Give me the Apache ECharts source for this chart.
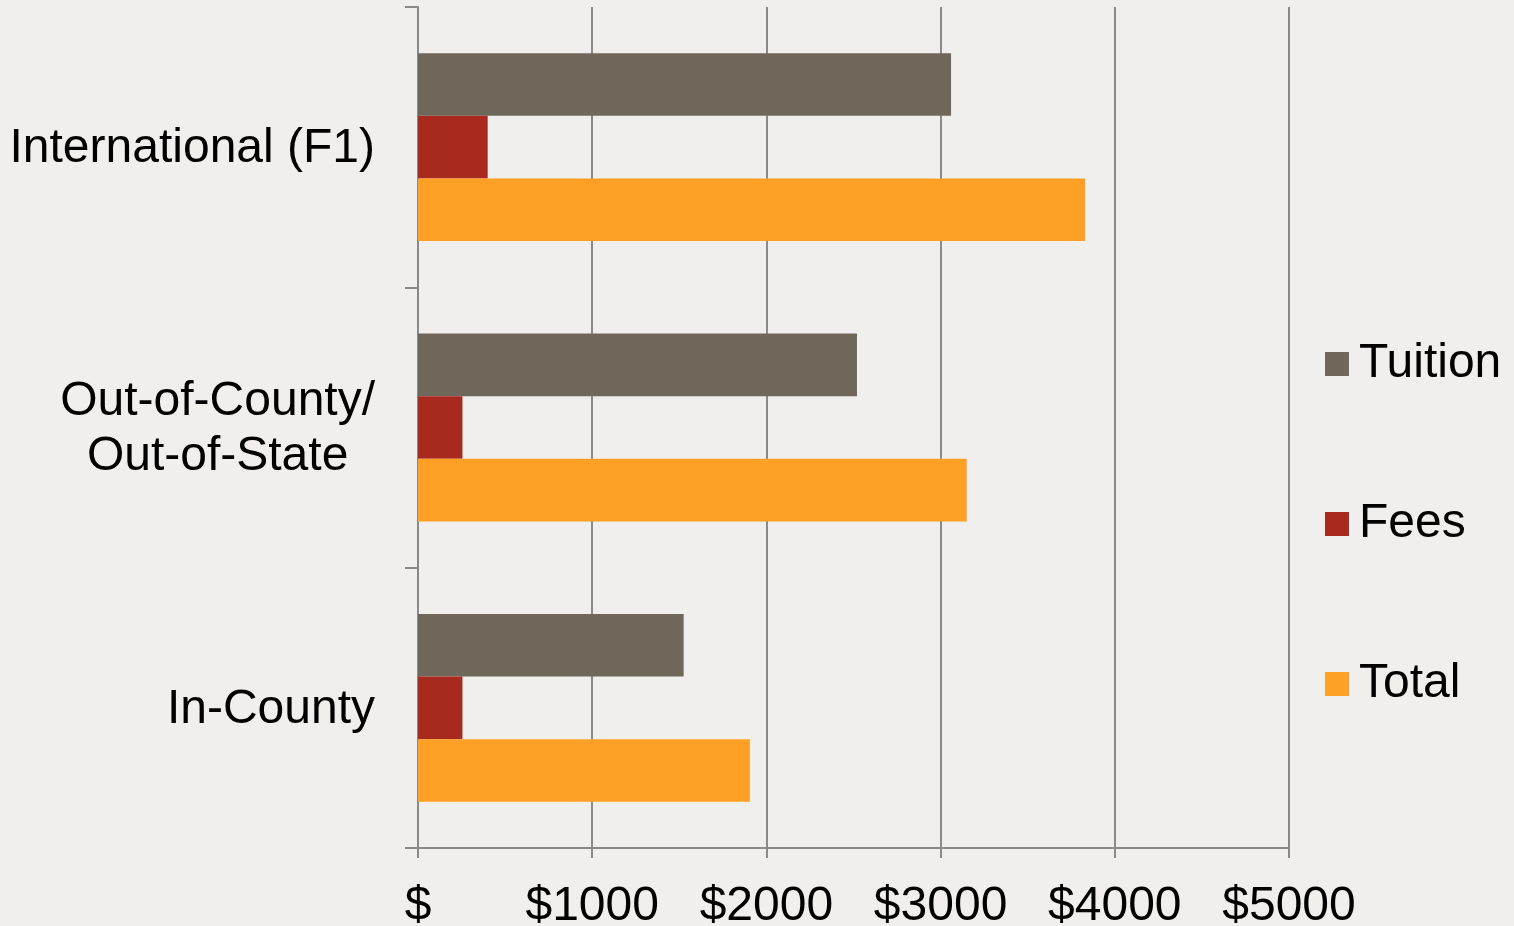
<!DOCTYPE html>
<html>
<head>
<meta charset="utf-8">
<style>
  html, body { margin: 0; padding: 0; background: #f0efee; }
  #chart { width: 1514px; height: 926px; }
</style>
<script src="https://cdn.jsdelivr.net/npm/echarts@6/dist/echarts.min.js"></script>
</head>
<body>
<div id="chart"></div>
<script>
// categories bottom to top, like the value axis reads
const categories = ['In-County', 'Out-of-County/\nOut-of-State', 'International (F1)'];
const tuition = [1525, 2520, 3060];
const fees = [255, 255, 400];
const total = [1905, 3150, 3830];
const xTicks = ['$', '$1000', '$2000', '$3000', '$4000', '$5000'];

const chart = echarts.init(document.getElementById('chart'));

const font = 'Liberation Sans, Arial, sans-serif';

const option = {
  backgroundColor: '#f0efee',
  color: ['#6f675a', '#a8291e', '#fda025'],
  textStyle: { fontFamily: font },
  grid: { left: 418, top: 7, right: 225, bottom: 78, outerBoundsMode: 'none' },
  legend: {
    orient: 'vertical',
    left: 1320,
    top: 335,
    itemWidth: 24,
    itemHeight: 24,
    itemGap: 112,
    icon: 'rect',
    data: ['Tuition', 'Fees', 'Total'],
    textStyle: { fontSize: 48, color: '#000', fontFamily: font, padding: [0, 0, 0, 5] }
  },
  xAxis: {
    type: 'value',
    min: 0,
    max: 5000,
    interval: 1000,
    axisLine: { show: true, lineStyle: { color: '#8a8a8a', width: 2 } },
    axisTick: { show: true, length: 10, lineStyle: { color: '#8a8a8a', width: 2 } },
    splitLine: { show: true, lineStyle: { color: '#8a8a8a', width: 2 } },
    axisLabel: {
      margin: 35,
      fontSize: 48,
      color: '#000',
      fontFamily: font,
      formatter: function (v) { return xTicks[Math.round(v / 1000)]; }
    }
  },
  yAxis: {
    type: 'category',
    data: categories,
    axisLine: { show: true, lineStyle: { color: '#8a8a8a', width: 2 } },
    axisTick: { show: true, length: 13, lineStyle: { color: '#8a8a8a', width: 2 } },
    axisLabel: {
      margin: 43,
      fontSize: 48,
      color: '#000',
      fontFamily: font,
      lineHeight: 55,
      formatter: function (v) {
        return v.split('\n').map(function (s) { return '{c|' + s + '}'; }).join('\n');
      },
      rich: { c: { align: 'center', fontSize: 48, lineHeight: 55, color: '#000', fontFamily: font, padding: [3, 0, 0, 0] } }
    }
  },
  series: [
    { name: 'Tuition', type: 'bar', data: tuition, barGap: '0%', barCategoryGap: '33%' },
    { name: 'Fees', type: 'bar', data: fees, barGap: '0%', barCategoryGap: '33%' },
    { name: 'Total', type: 'bar', data: total, barGap: '0%', barCategoryGap: '33%' }
  ]
};

chart.setOption(option);
</script>
</body>
</html>
